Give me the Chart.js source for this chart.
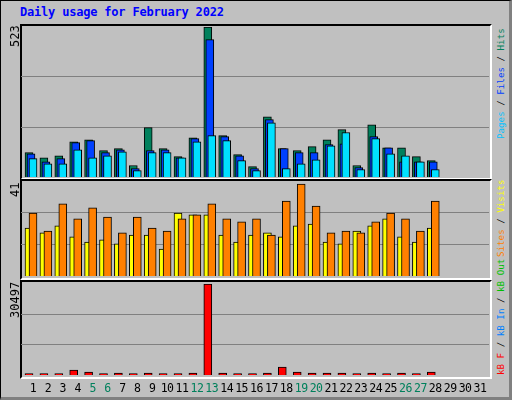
<!DOCTYPE html>
<html><head><meta charset="utf-8">
<script src="https://cdn.jsdelivr.net/npm/chart.js@4/dist/chart.umd.min.js"></script>
<style>
body{margin:0;width:512px;height:400px;overflow:hidden;background:#c0c0c0;font-family:"DejaVu Sans Mono",monospace}
#frame{position:absolute;left:0;top:0;width:508px;height:396px;border-left:1px solid #000;border-top:1px solid #000;border-right:3px solid #808080;border-bottom:3px solid #808080;box-sizing:content-box}
.panel{position:absolute;box-sizing:border-box;border-top:2px solid #000;border-left:2px solid #000;border-right:2px solid #fff;border-bottom:2px solid #fff}
canvas{position:absolute}
.rot{position:absolute;transform-origin:0 0;transform:rotate(-90deg);white-space:nowrap;font-size:12px;line-height:12px}
.leg{font-size:9.2px;line-height:10px}
.day{position:absolute;top:381px;width:20px;margin-left:-10px;text-align:center;font-size:11.5px;letter-spacing:-0.5px}
#title{position:absolute;left:20px;top:5px;font:bold 12px "DejaVu Sans Mono",monospace;color:#0000ff;letter-spacing:-0.2px}
</style></head><body>
<div id="frame"></div>
<div id="title">Daily usage for February 2022</div>
<div class="panel" style="left:20px;top:24px;width:472px;height:156px"></div>
<div class="panel" style="left:20px;top:179px;width:472px;height:101px"></div>
<div class="panel" style="left:20px;top:280px;width:472px;height:99px"></div>
<canvas id="c1" width="468" height="150" style="left:21px;top:27px;width:468px;height:150px"></canvas>
<canvas id="c2" width="468" height="96" style="left:21px;top:180px;width:468px;height:96px"></canvas>
<canvas id="c3" width="468" height="91" style="left:21px;top:284px;width:468px;height:91px"></canvas>
<div class="rot" style="left:9px;top:47px">523</div>
<div class="rot" style="left:9px;top:197px">41</div>
<div class="rot" style="left:9px;top:318px">30497</div>
<div class="rot leg" style="left:496px;top:139px"><span style="color:#00c0ff">Pages</span> / <span style="color:#0040ff">Files</span> / <span style="color:#00805c">Hits</span></div>
<div class="rot leg" style="left:496px;top:257px"><span style="color:#ff8000">Sites</span> / <span style="color:#ffff00">Visits</span></div>
<div class="rot leg" style="left:496px;top:375px"><span style="color:#ff0000">kB F</span> / <span style="color:#0080ff">kB In</span> / <span style="color:#00c000">kB Out</span></div>
<div id="days"></div>
<script>
const days = Array.from({length:31},(_,i)=>i+1);
const weekendDays = [5,6,12,13,19,20,26,27];
const hits  = [85,67,74,123,130,92,99,40,172,99,71,137,523,144,78,36,210,99,92,106,130,165,40,182,102,102,71,57];
const files = [81,53,64,120,127,85,95,29,92,95,67,134,479,141,74,29,200,99,85,85,113,116,33,141,102,53,53,53];
const pages = [64,46,46,95,67,74,88,22,85,85,67,123,144,127,57,22,189,29,46,60,109,155,26,134,81,74,53,26];
const visits= [20.5,18.4,21.4,16.7,14.5,15.4,13.7,17.5,17.5,11.5,26.9,26.1,26.1,17.5,14.5,17.5,18.4,16.7,21.4,22.2,14.5,13.7,19.2,21.4,24.4,16.7,14.5,20.5];
const sites = [26.9,19.2,30.8,24.4,29.1,25.2,18.4,25.2,20.5,19.2,24.4,26.1,30.8,24.4,23.1,24.4,17.5,32.0,39.3,29.9,18.4,19.2,18.4,23.1,26.9,24.4,19.2,32.0];
const kbytes= [450,450,450,1675,1005,450,670,450,670,450,450,670,30497,670,450,450,670,2680,1005,670,670,670,450,670,450,670,450,1005];
const maxes = [523,41,30497];

const dd=document.getElementById('days');
days.forEach(d=>{const e=document.createElement('div');e.className='day';e.style.left=(33+(d-1)*14.9)+'px';e.style.color=weekendDays.includes(d)?'#00805c':'#000';e.textContent=d;dd.appendChild(e);});

const PX=14.9, MIN=1-(33-21)/PX, MAX=31+(489-480)/PX;
function xAxis(shiftPx){const s=-shiftPx/PX;return {type:'linear',display:false,offset:false,min:MIN+s,max:MAX+s};}
function ds(vals,color,axis){return {data:vals.map((v,i)=>({x:days[i],y:v})),backgroundColor:color,borderColor:'#000',borderWidth:1,barThickness:8,xAxisID:axis,grouped:false};}
function mk(id,datasets,axes,max){
  const scales=Object.assign({},axes,{y:{min:0,max:max,display:true,
    afterFit:s=>{s.width=0;},afterBuildTicks:s=>{s.ticks=[{value:max/3},{value:2*max/3}];},
    ticks:{display:false},border:{display:false},grid:{color:'#808080',lineWidth:1,drawTicks:false}}});
  new Chart(document.getElementById(id),{type:'bar',data:{datasets},
    options:{responsive:false,animation:false,layout:{padding:0},plugins:{legend:{display:false},tooltip:{enabled:false}},scales}});
}
mk('c1',[ds(pages,'#00e0ff','xp'),ds(files,'#0040ff','xf'),ds(hits,'#00805c','xh')],
   {xh:xAxis(-4),xf:xAxis(-2),xp:xAxis(0)},maxes[0]);
mk('c2',[ds(sites,'#ff8000','xs'),ds(visits,'#ffff00','xv')],{xv:xAxis(-4),xs:xAxis(0)},maxes[1]);
mk('c3',[ds(kbytes,'#ff0000','xk')],{xk:xAxis(-4)},maxes[2]);
</script></body></html>
